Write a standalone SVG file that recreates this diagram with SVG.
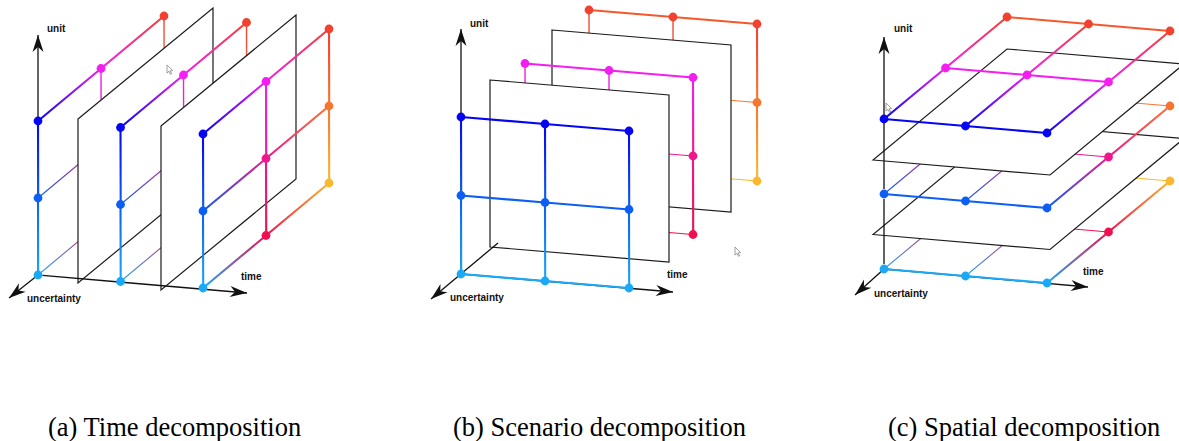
<svg xmlns="http://www.w3.org/2000/svg" width="1179" height="441" viewBox="0 0 1179 441">
<defs>
<style>
.pl{fill:#fff;stroke:#1c1c1c;stroke-width:1.2;stroke-linejoin:miter}
.k{fill:none;stroke-width:2.1;stroke-linecap:round;stroke-linejoin:round}
.t{fill:none;stroke-width:1.1;stroke-linecap:round}
.tv{fill:none;stroke-width:1.4;stroke-linecap:round}
.ax{fill:none;stroke:#111;stroke-width:1.3;marker-end:url(#ah)}
.axn{fill:none;stroke:#111;stroke-width:1.3}
.lb{font-family:"Liberation Sans",Arial,sans-serif;font-weight:bold;font-size:10px;fill:#111}
.cap{font-family:"Liberation Serif","Times New Roman",serif;font-size:26.5px;fill:#000}
.cur{fill:#fff;stroke:#777;stroke-width:.7;stroke-linejoin:round}
.n00{fill:#0505f2}.n01{fill:#0c5ff2}.n02{fill:#19a9f7}
.n10{fill:#f41ef0}.n11{fill:#f0168c}.n12{fill:#f0104f}
.n20{fill:#f2412f}.n21{fill:#f7762f}.n22{fill:#fbb82f}
.d0a{stroke:url(#gD0a)}.d0b{stroke:url(#gD0b)}
.d1a{stroke:url(#gD1a)}.d1b{stroke:url(#gD1b)}
.d2a{stroke:url(#gD2a)}.d2b{stroke:url(#gD2b)}
.v0a{stroke:url(#gV0a)}.v0b{stroke:url(#gV0b)}
.v1a{stroke:url(#gV1a)}.v1b{stroke:url(#gV1b)}
.v2a{stroke:url(#gV2a)}.v2b{stroke:url(#gV2b)}
</style>
<marker id="ah" viewBox="-18 -6 20 12" refX="0" refY="0" markerWidth="20" markerHeight="12" markerUnits="userSpaceOnUse" orient="auto"><path d="M0,0 L-17,-5.5 L-12,0 L-17,5.5 Z" fill="#111"/></marker>
<linearGradient id="gD0a" x1="0" y1="1" x2="1" y2="0"><stop offset="0" stop-color="#0505f2"/><stop offset="1" stop-color="#f41ef0"/></linearGradient>
<linearGradient id="gD0b" x1="0" y1="1" x2="1" y2="0"><stop offset="0" stop-color="#f41ef0"/><stop offset="1" stop-color="#f2412f"/></linearGradient>
<linearGradient id="gD1a" x1="0" y1="1" x2="1" y2="0"><stop offset="0" stop-color="#0c5ff2"/><stop offset="1" stop-color="#f0168c"/></linearGradient>
<linearGradient id="gD1b" x1="0" y1="1" x2="1" y2="0"><stop offset="0" stop-color="#f0168c"/><stop offset="1" stop-color="#f7762f"/></linearGradient>
<linearGradient id="gD2a" x1="0" y1="1" x2="1" y2="0"><stop offset="0" stop-color="#19a9f7"/><stop offset="1" stop-color="#f0104f"/></linearGradient>
<linearGradient id="gD2b" x1="0" y1="1" x2="1" y2="0"><stop offset="0" stop-color="#f0104f"/><stop offset="1" stop-color="#fbb82f"/></linearGradient>
<linearGradient id="gV0a" x1="0" y1="0" x2="0" y2="1"><stop offset="0" stop-color="#0505f2"/><stop offset="1" stop-color="#0c5ff2"/></linearGradient>
<linearGradient id="gV0b" x1="0" y1="0" x2="0" y2="1"><stop offset="0" stop-color="#0c5ff2"/><stop offset="1" stop-color="#19a9f7"/></linearGradient>
<linearGradient id="gV1a" x1="0" y1="0" x2="0" y2="1"><stop offset="0" stop-color="#f41ef0"/><stop offset="1" stop-color="#f0168c"/></linearGradient>
<linearGradient id="gV1b" x1="0" y1="0" x2="0" y2="1"><stop offset="0" stop-color="#f0168c"/><stop offset="1" stop-color="#f0104f"/></linearGradient>
<linearGradient id="gV2a" x1="0" y1="0" x2="0" y2="1"><stop offset="0" stop-color="#f2412f"/><stop offset="1" stop-color="#f7762f"/></linearGradient>
<linearGradient id="gV2b" x1="0" y1="0" x2="0" y2="1"><stop offset="0" stop-color="#f7762f"/><stop offset="1" stop-color="#fbb82f"/></linearGradient>
</defs>
<rect width="1179" height="441" fill="#fff"/>

<!-- ============ (a) Time decomposition ============ -->
<g id="panel-a">
 <g id="a-axes">
  <line class="ax" x1="38" y1="275" x2="38" y2="35"/>
  <line class="ax" x1="38" y1="275" x2="9" y2="298"/>
 </g>
 <g id="a-slice-t0">
  <line class="k v0a" x1="38" y1="121" x2="38.2" y2="198"/>
  <line class="k v0b" x1="38" y1="198" x2="38.2" y2="275"/>
  <line class="tv v1a" x1="101" y1="68.5" x2="101.2" y2="145.5"/>
  <line class="tv v1b" x1="101" y1="145.5" x2="101.2" y2="222.5"/>
  <line class="tv v2a" x1="164" y1="16" x2="164.2" y2="93"/>
  <line class="tv v2b" x1="164" y1="93" x2="164.2" y2="170"/>
  <line class="k d0a" x1="38" y1="121" x2="101" y2="68.5"/>
  <line class="k d0b" x1="101" y1="68.5" x2="164" y2="16"/>
  <line class="t d1a" x1="38" y1="198" x2="101" y2="145.5"/>
  <line class="t d1b" x1="101" y1="145.5" x2="164" y2="93"/>
  <line class="t d2a" x1="38" y1="275" x2="101" y2="222.5"/>
  <line class="t d2b" x1="101" y1="222.5" x2="164" y2="170"/>
  <circle class="n00" cx="38" cy="121" r="4.4"/>
  <circle class="n01" cx="38" cy="198" r="4.4"/>
  <circle class="n02" cx="38" cy="275" r="4.4"/>
  <circle class="n10" cx="101" cy="68.5" r="4.4"/>
  <circle class="n20" cx="164" cy="16" r="4.4"/>
 </g>
 <polygon id="a-plane-1" class="pl" points="78,119 213,8 213,172 78,283"/>
 <line class="axn" x1="42.5" y1="275.4" x2="125" y2="282.5"/>
 <g id="a-slice-t1">
  <line class="k v0a" x1="120.5" y1="127.5" x2="120.7" y2="204.5"/>
  <line class="k v0b" x1="120.5" y1="204.5" x2="120.7" y2="281.5"/>
  <line class="tv v1a" x1="183.5" y1="75" x2="183.7" y2="152"/>
  <line class="tv v1b" x1="183.5" y1="152" x2="183.7" y2="229"/>
  <line class="tv v2a" x1="246.5" y1="22.5" x2="246.7" y2="99.5"/>
  <line class="tv v2b" x1="246.5" y1="99.5" x2="246.7" y2="176.5"/>
  <line class="k d0a" x1="120.5" y1="127.5" x2="183.5" y2="75"/>
  <line class="k d0b" x1="183.5" y1="75" x2="246.5" y2="22.5"/>
  <line class="t d1a" x1="120.5" y1="204.5" x2="183.5" y2="152"/>
  <line class="t d1b" x1="183.5" y1="152" x2="246.5" y2="99.5"/>
  <line class="t d2a" x1="120.5" y1="281.5" x2="183.5" y2="229"/>
  <line class="t d2b" x1="183.5" y1="229" x2="246.5" y2="176.5"/>
  <circle class="n00" cx="120.5" cy="127.5" r="4.4"/>
  <circle class="n01" cx="120.5" cy="204.5" r="4.4"/>
  <circle class="n02" cx="120.5" cy="281.5" r="4.4"/>
  <circle class="n10" cx="183.5" cy="75" r="4.4"/>
  <circle class="n20" cx="246.5" cy="22.5" r="4.4"/>
 </g>
 <polygon id="a-plane-2" class="pl" points="161,126 296,15 296,179 161,290"/>
 <line class="ax" x1="125" y1="282.5" x2="247" y2="293"/>
 <g id="a-slice-t2">
  <line class="k v0a" x1="203" y1="134" x2="203.2" y2="211"/>
  <line class="k v0b" x1="203" y1="211" x2="203.2" y2="288"/>
  <line class="k v1a" x1="266" y1="81.5" x2="266.2" y2="158.5"/>
  <line class="k v1b" x1="266" y1="158.5" x2="266.2" y2="235.5"/>
  <line class="k v2a" x1="329" y1="29" x2="329.2" y2="106"/>
  <line class="k v2b" x1="329" y1="106" x2="329.2" y2="183"/>
  <line class="k d0a" x1="203" y1="134" x2="266" y2="81.5"/>
  <line class="k d0b" x1="266" y1="81.5" x2="329" y2="29"/>
  <line class="k d1a" x1="203" y1="211" x2="266" y2="158.5"/>
  <line class="k d1b" x1="266" y1="158.5" x2="329" y2="106"/>
  <line class="k d2a" x1="203" y1="288" x2="266" y2="235.5"/>
  <line class="k d2b" x1="266" y1="235.5" x2="329" y2="183"/>
  <circle class="n00" cx="203" cy="134" r="4.4"/>
  <circle class="n01" cx="203" cy="211" r="4.4"/>
  <circle class="n02" cx="203" cy="288" r="4.4"/>
  <circle class="n10" cx="266" cy="81.5" r="4.4"/>
  <circle class="n11" cx="266" cy="158.5" r="4.4"/>
  <circle class="n12" cx="266" cy="235.5" r="4.4"/>
  <circle class="n20" cx="329" cy="29" r="4.4"/>
  <circle class="n21" cx="329" cy="106" r="4.4"/>
  <circle class="n22" cx="329" cy="183" r="4.4"/>
 </g>
 <path class="cur" d="M167,65 L167,73 L169,71.3 L170.5,74.3 L171.6,73.8 L170.2,70.8 L172.6,70.6 Z"/>
 <text class="lb" x="47" y="32">unit</text>
 <text class="lb" x="241" y="280">time</text>
 <text class="lb" x="27" y="302">uncertainty</text>
 <text class="cap" x="48" y="436">(a) Time decomposition</text>
</g>

<!-- ============ (b) Scenario decomposition ============ -->
<g id="panel-b">
 <g id="b-layer-d2">
  <polyline class="k" stroke="#f4582c" points="589,10 673,17 757,24"/>
  <polyline class="t" stroke="#f7762f" points="589,88.5 673,95.5 757,102.5"/>
  <polyline class="t" stroke="#fbb82f" points="589,167 673,174 757,181"/>
  <line class="tv v2a" x1="589" y1="10" x2="589.2" y2="88.5"/>
  <line class="tv v2b" x1="589" y1="88.5" x2="589.2" y2="167"/>
  <line class="tv v2a" x1="673" y1="17" x2="673.2" y2="95.5"/>
  <line class="tv v2b" x1="673" y1="95.5" x2="673.2" y2="174"/>
  <line class="k v2a" x1="757" y1="24" x2="757.2" y2="102.5"/>
  <line class="k v2b" x1="757" y1="102.5" x2="757.2" y2="181"/>
  <circle class="n20" cx="589" cy="10" r="4.4"/>
  <circle class="n20" cx="673" cy="17" r="4.4"/>
  <circle class="n20" cx="757" cy="24" r="4.4"/>
  <circle class="n21" cx="757" cy="102.5" r="4.4"/>
  <circle class="n22" cx="757" cy="181" r="4.4"/>
 </g>
 <polygon id="b-plane-back" class="pl" points="552,30 731,45 731,212 552,197"/>
 <g id="b-layer-d1">
  <polyline class="k" stroke="#f41ef0" points="525,63.5 609,70.5 693,77.5"/>
  <polyline class="t" stroke="#f0168c" points="525,142 609,149 693,156"/>
  <polyline class="t" stroke="#f0104f" points="525,220.5 609,227.5 693,234.5"/>
  <line class="tv v1a" x1="525" y1="63.5" x2="525.2" y2="142"/>
  <line class="tv v1b" x1="525" y1="142" x2="525.2" y2="220.5"/>
  <line class="tv v1a" x1="609" y1="70.5" x2="609.2" y2="149"/>
  <line class="tv v1b" x1="609" y1="149" x2="609.2" y2="227.5"/>
  <line class="k v1a" x1="693" y1="77.5" x2="693.2" y2="156"/>
  <line class="k v1b" x1="693" y1="156" x2="693.2" y2="234.5"/>
  <circle class="n10" cx="525" cy="63.5" r="4.4"/>
  <circle class="n10" cx="609" cy="70.5" r="4.4"/>
  <circle class="n10" cx="693" cy="77.5" r="4.4"/>
  <circle class="n11" cx="693" cy="156" r="4.4"/>
  <circle class="n12" cx="693" cy="234.5" r="4.4"/>
 </g>
 <polygon id="b-plane-front" class="pl" points="490,80 669,95 669,262 490,247"/>
 <g id="b-axes">
  <line class="ax" x1="461" y1="274" x2="461" y2="29"/>
  <line class="ax" x1="461" y1="274" x2="673" y2="292"/>
  <line class="ax" x1="498" y1="243" x2="431" y2="299"/>
 </g>
 <g id="b-layer-d0">
  <polyline class="k" stroke="#0505f2" points="461,117 545,124 629,131"/>
  <polyline class="k" stroke="#0c5ff2" points="461,195.5 545,202.5 629,209.5"/>
  <polyline class="k" stroke="#19a9f7" points="461,274 545,281 629,288"/>
  <line class="k v0a" x1="461" y1="117" x2="461.2" y2="195.5"/>
  <line class="k v0b" x1="461" y1="195.5" x2="461.2" y2="274"/>
  <line class="k v0a" x1="545" y1="124" x2="545.2" y2="202.5"/>
  <line class="k v0b" x1="545" y1="202.5" x2="545.2" y2="281"/>
  <line class="k v0a" x1="629" y1="131" x2="629.2" y2="209.5"/>
  <line class="k v0b" x1="629" y1="209.5" x2="629.2" y2="288"/>
  <circle class="n00" cx="461" cy="117" r="4.4"/>
  <circle class="n00" cx="545" cy="124" r="4.4"/>
  <circle class="n00" cx="629" cy="131" r="4.4"/>
  <circle class="n01" cx="461" cy="195.5" r="4.4"/>
  <circle class="n01" cx="545" cy="202.5" r="4.4"/>
  <circle class="n01" cx="629" cy="209.5" r="4.4"/>
  <circle class="n02" cx="461" cy="274" r="4.4"/>
  <circle class="n02" cx="545" cy="281" r="4.4"/>
  <circle class="n02" cx="629" cy="288" r="4.4"/>
 </g>
 <path class="cur" d="M735,247 L735,255 L737,253.3 L738.5,256.3 L739.6,255.8 L738.2,252.8 L740.6,252.6 Z"/>
 <text class="lb" x="470" y="27">unit</text>
 <text class="lb" x="667" y="278">time</text>
 <text class="lb" x="450" y="301">uncertainty</text>
 <text class="cap" x="453" y="436">(b) Scenario decomposition</text>
</g>

<!-- ============ (c) Spatial decomposition ============ -->
<g id="panel-c">
 <g id="c-axes">
  <line class="ax" x1="884" y1="269" x2="1088" y2="287"/>
  <line class="ax" x1="884" y1="269" x2="855" y2="295"/>
 </g>
 <g id="c-layer-v2">
  <polyline class="k" stroke="#19a9f7" points="884,269 965.5,276 1047,283"/>
  <polyline class="t" stroke="#f0104f" points="945.5,218 1027,225 1108.5,232"/>
  <polyline class="t" stroke="#fbb82f" points="1007,167 1088.5,174 1170,181"/>
  <line class="t d2a" x1="884" y1="269" x2="945.5" y2="218"/>
  <line class="t d2b" x1="945.5" y1="218" x2="1007" y2="167"/>
  <line class="t d2a" x1="965.5" y1="276" x2="1027" y2="225"/>
  <line class="t d2b" x1="1027" y1="225" x2="1088.5" y2="174"/>
  <line class="k d2a" x1="1047" y1="283" x2="1108.5" y2="232"/>
  <line class="k d2b" x1="1108.5" y1="232" x2="1170" y2="181"/>
  <circle class="n02" cx="884" cy="269" r="4.4"/>
  <circle class="n02" cx="965.5" cy="276" r="4.4"/>
  <circle class="n02" cx="1047" cy="283" r="4.4"/>
  <circle class="n12" cx="1108.5" cy="232" r="4.4"/>
  <circle class="n22" cx="1170" cy="181" r="4.4"/>
 </g>
 <polygon id="c-plane-2" class="pl" points="873,234.5 1050,249.5 1184,138.5 1007,123.5"/>
 <line class="axn" x1="884" y1="264" x2="884" y2="199"/>
 <g id="c-layer-v1">
  <polyline class="k" stroke="#0c5ff2" points="884,194 965.5,201 1047,208"/>
  <polyline class="t" stroke="#f0168c" points="945.5,143 1027,150 1108.5,157"/>
  <polyline class="t" stroke="#f7762f" points="1007,92 1088.5,99 1170,106"/>
  <line class="t d1a" x1="884" y1="194" x2="945.5" y2="143"/>
  <line class="t d1b" x1="945.5" y1="143" x2="1007" y2="92"/>
  <line class="t d1a" x1="965.5" y1="201" x2="1027" y2="150"/>
  <line class="t d1b" x1="1027" y1="150" x2="1088.5" y2="99"/>
  <line class="k d1a" x1="1047" y1="208" x2="1108.5" y2="157"/>
  <line class="k d1b" x1="1108.5" y1="157" x2="1170" y2="106"/>
  <circle class="n01" cx="884" cy="194" r="4.4"/>
  <circle class="n01" cx="965.5" cy="201" r="4.4"/>
  <circle class="n01" cx="1047" cy="208" r="4.4"/>
  <circle class="n11" cx="1108.5" cy="157" r="4.4"/>
  <circle class="n21" cx="1170" cy="106" r="4.4"/>
 </g>
 <polygon id="c-plane-1" class="pl" points="873,160 1050,175 1184,64 1007,49"/>
 <line class="ax" x1="884" y1="189" x2="884" y2="37"/>
 <g id="c-layer-v0">
  <polyline class="k" stroke="#0505f2" points="884,119 965.5,126 1047,133"/>
  <polyline class="k" stroke="#f41ef0" points="945.5,68 1027,75 1108.5,82"/>
  <polyline class="k" stroke="#f4582c" points="1007,17 1088.5,24 1170,31"/>
  <line class="k d0a" x1="884" y1="119" x2="945.5" y2="68"/>
  <line class="k d0b" x1="945.5" y1="68" x2="1007" y2="17"/>
  <line class="k d0a" x1="965.5" y1="126" x2="1027" y2="75"/>
  <line class="k d0b" x1="1027" y1="75" x2="1088.5" y2="24"/>
  <line class="k d0a" x1="1047" y1="133" x2="1108.5" y2="82"/>
  <line class="k d0b" x1="1108.5" y1="82" x2="1170" y2="31"/>
  <circle class="n00" cx="884" cy="119" r="4.4"/>
  <circle class="n00" cx="965.5" cy="126" r="4.4"/>
  <circle class="n00" cx="1047" cy="133" r="4.4"/>
  <circle class="n10" cx="945.5" cy="68" r="4.4"/>
  <circle class="n10" cx="1027" cy="75" r="4.4"/>
  <circle class="n10" cx="1108.5" cy="82" r="4.4"/>
  <circle class="n20" cx="1007" cy="17" r="4.4"/>
  <circle class="n20" cx="1088.5" cy="24" r="4.4"/>
  <circle class="n20" cx="1170" cy="31" r="4.4"/>
 </g>
 <path class="cur" d="M886,103 L886,111 L888,109.3 L889.5,112.3 L890.6,111.8 L889.2,108.8 L891.6,108.6 Z"/>
 <text class="lb" x="894" y="32">unit</text>
 <text class="lb" x="1083" y="275">time</text>
 <text class="lb" x="874" y="297">uncertainty</text>
 <text class="cap" x="888" y="436">(c) Spatial decomposition</text>
</g>
</svg>
